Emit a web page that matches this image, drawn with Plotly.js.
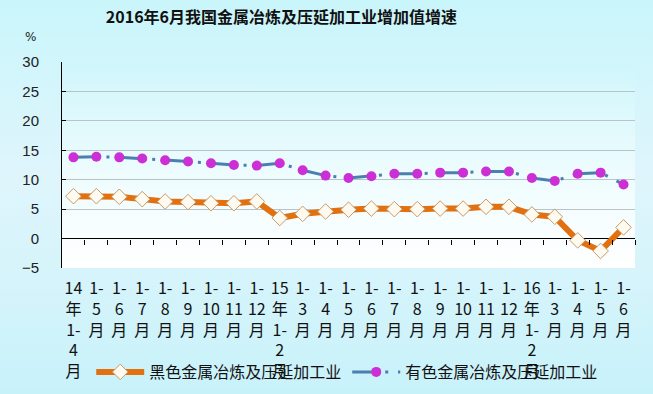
<!DOCTYPE html>
<html>
<head>
<meta charset="utf-8">
<script src="https://cdn.plot.ly/plotly-3.0.1.min.js"></script>
<style>
  html, body { margin: 0; padding: 0; }
  #wrap { position: relative; width: 653px; height: 394px; overflow: hidden;
    background: linear-gradient(to bottom, #c9f6fb 0%, #dff5fc 45%, #d6f4fb 70%, #c8f2fa 100%); }
  #plotbg { position: absolute; left: 62px; top: 62px; width: 573px; height: 206px;
    background: linear-gradient(to bottom, #cff6fb 0%, #eefcfe 55%, #ffffff 100%); }
  #chart { position: absolute; left: 0; top: 0; width: 653px; height: 394px; }
</style>
</head>
<body>
<div id="wrap"><div id="plotbg"></div><div id="chart"></div></div>
<script>
// Categories (period labels)
var categories = [
  "14年1-4月","1-5月","1-6月","1-7月","1-8月","1-9月","1-10月","1-11月","1-12月",
  "15年1-2月","1-3月","1-4月","1-5月","1-6月","1-7月","1-8月","1-9月","1-10月","1-11月","1-12月",
  "16年1-2月","1-3月","1-4月","1-5月","1-6月"
];
// 黑色金属冶炼及压延加工业 (%)
var ferrousValues = [7.2,7.2,7.1,6.7,6.3,6.2,6.0,6.0,6.3,3.5,4.2,4.6,4.9,5.1,5.0,5.0,5.1,5.1,5.4,5.4,4.1,3.7,-0.3,-2.1,1.9];
// 有色金属冶炼及压延加工业 (%)
var nonferrousValues = [13.8,13.9,13.8,13.6,13.3,13.1,12.8,12.5,12.4,12.8,11.6,10.7,10.3,10.6,11.0,11.0,11.2,11.2,11.4,11.4,10.3,9.8,11.0,11.2,9.2];
var seriesNames = ["黑色金属冶炼及压延加工业","有色金属冶炼及压延加工业"];
var yTicks = [-5,0,5,10,15,20,25,30];
var chartTitle = "2016年6月我国金属冶炼及压延加工业增加值增速";

function splitLabel(s) {
  var m = s.match(/^(\d+)年(1-)(\d+)月$/);
  if (m) return [m[1], "年", m[2], m[3], "月"].join("<br>");
  m = s.match(/^(1-)(\d+)月$/);
  return [m[1], m[2], "月"].join("<br>");
}
var idx = categories.map(function(_, i){ return i; });
var tickText = categories.map(splitLabel);
var boundaries = categories.map(function(_, i){ return i + 0.5; });

var cjk = '"Noto Sans CJK SC", "Noto Sans", sans-serif';
var yMin = -5, yMax = 30;

var traces = [
  {
    x: idx, y: ferrousValues, name: seriesNames[0], type: "scatter", mode: "lines+markers",
    line: { color: "#e2700f", width: 6 },
    marker: { symbol: "diamond", size: 12, color: "#fffaf0", line: { color: "#c79a68", width: 1 } },
    hoverinfo: "x+y"
  },
  {
    x: idx, y: nonferrousValues, name: seriesNames[1], type: "scatter", mode: "lines+markers",
    line: { color: "#4b7fae", width: 3, dash: "27px,6px,3px,9.8px" },
    marker: { symbol: "circle", size: 10, color: "#cc2fd6" },
    hoverinfo: "x+y"
  },
  {
    x: idx, y: idx.map(function(){ return null; }), xaxis: "x2", yaxis: "y",
    showlegend: false, hoverinfo: "skip", mode: "lines"
  }
];

var layout = {
  width: 653, height: 394,
  margin: { l: 62, r: 18, t: 62, b: 126, autoexpand: false },
  paper_bgcolor: "rgba(0,0,0,0)",
  plot_bgcolor: "rgba(0,0,0,0)",
  title: {
    text: "<b>" + chartTitle + "</b>",
    font: { family: cjk, size: 16, color: "#111" },
    xref: "container", x: 0.431, xanchor: "center",
    yref: "container", y: 0.957, yanchor: "middle"
  },
  xaxis: {
    range: [-0.5, categories.length - 0.5],
    tickvals: idx, ticktext: tickText,
    ticks: "", showgrid: false, zeroline: false, showline: false,
    tickfont: { family: cjk, size: 16, color: "#111" },
    ticklabelstandoff: 9, automargin: false
  },
  xaxis2: {
    overlaying: "x", anchor: "free", side: "bottom",
    position: (0 - yMin) / (yMax - yMin),
    range: [-0.5, categories.length - 0.5],
    tickvals: boundaries, ticks: "outside", ticklen: 5, tickcolor: "#000", tickwidth: 1,
    showticklabels: false, showgrid: false, zeroline: false, showline: false
  },
  yaxis: {
    range: [yMin, yMax], tickvals: yTicks,
    ticks: "inside", ticklen: 4, tickcolor: "#000",
    showline: true, linecolor: "#000", linewidth: 1,
    showgrid: true, gridcolor: "#b9c3c8", gridwidth: 1,
    zeroline: true, zerolinecolor: "#000", zerolinewidth: 1.5,
    tickfont: { family: '"Liberation Sans", Arial, sans-serif', size: 15, color: "#222" },
    ticklabelstandoff: 19, automargin: false
  },
  legend: {
    orientation: "h", x: 0.051, xanchor: "left",
    yref: "container", y: 1 - 372 / 394, yanchor: "middle",
    font: { family: cjk, size: 16, color: "#111" },
    itemwidth: 48,
    bgcolor: "rgba(0,0,0,0)", entrywidth: 193, entrywidthmode: "pixels"
  },
  annotations: [
    { text: "%", xref: "paper", yref: "paper", x: -0.055, y: 1.12, showarrow: false,
      xanchor: "center", yanchor: "middle",
      font: { family: '"DejaVu Sans", sans-serif', size: 12, color: "#222" } }
  ],
  showlegend: true
};

Plotly.newPlot("chart", traces, layout, { displayModeBar: false, staticPlot: true });
</script>
</body>
</html>
